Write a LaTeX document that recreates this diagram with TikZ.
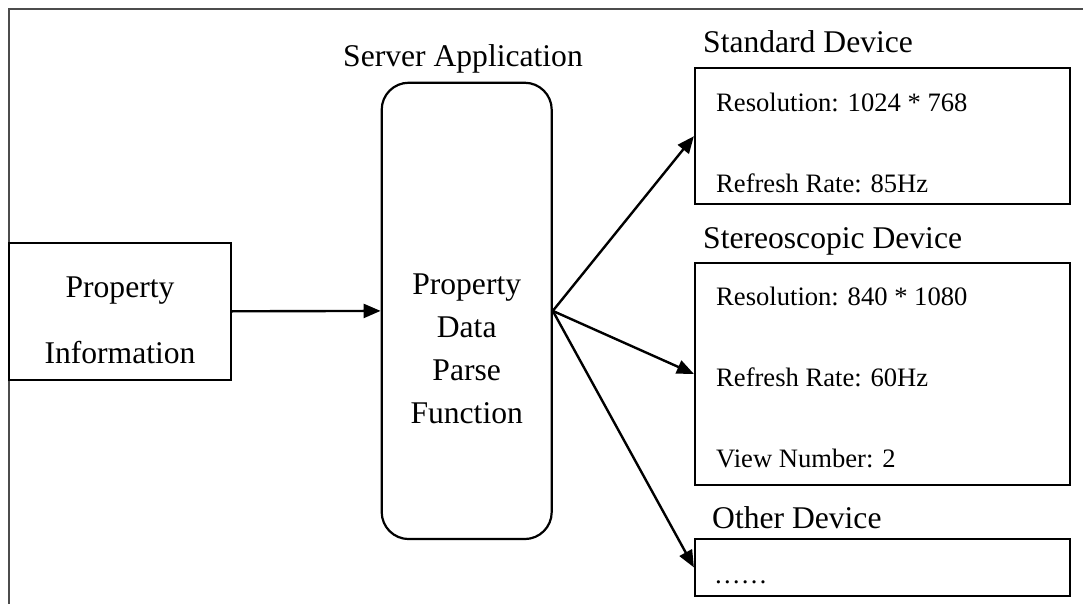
\documentclass[tikz,border=0pt]{standalone}
\usepackage{fontspec}
\setmainfont{Liberation Serif}
\usetikzlibrary{arrows.meta}
\begin{document}
\begin{tikzpicture}[x=1pt,y=-1pt,
  box/.style={draw,line width=2.2pt,rectangle,inner sep=0pt},
  big/.style={font=\fontsize{31.6}{43}\selectfont,inner sep=0pt,anchor=base},
  bigl/.style={big,anchor=base west},
  small/.style={font=\fontsize{26.6}{32}\selectfont,inner sep=0pt,anchor=base west},
  conn/.style={line width=2.4pt,-{Triangle[length=17pt,width=14pt]}}]
\useasboundingbox (0,0) rectangle (1083,604);
% outer frame
\draw[line width=2pt,black!70] (9,604) -- (9,9) -- (1083,9);

% boxes
\node[box,minimum width=222pt,minimum height=137.3pt] (prop) at (120,311.3) {};
\node[box,rounded corners=27pt,minimum width=170pt,minimum height=456.3pt] (srv) at (466.7,310.9) {};
\node[box,minimum width=375pt,minimum height=135.7pt] (std) at (882.5,136.2) {};
\node[box,minimum width=375pt,minimum height=222.3pt] (stereo) at (882.5,373.9) {};
\node[box,minimum width=375pt,minimum height=56.7pt] (other) at (882.5,567.4) {};

% input box text
\node[big] (propA) at (120,297) {Property};
\node[big] (propB) at (120,363) {Information};

% server
\node[big] (srvtitle) at (463,67) {Server Application};
\node[big] (srvA) at (466.7,294) {Property};
\node[big] (srvB) at (466.7,337) {Data};
\node[big] (srvC) at (466.7,380) {Parse};
\node[big] (srvD) at (466.7,423) {Function};

% devices
\node[bigl] (stdtitle) at (703,53) {Standard Device};
\node[small] (stdA) at (716,112) {Resolution: 1024 * 768};
\node[small] (stdB) at (716,192) {Refresh Rate: 85Hz};

\node[bigl] (sttitle) at (703,248) {Stereoscopic Device};
\node[small] (stA) at (716,305) {Resolution: 840 * 1080};
\node[small] (stB) at (716,386) {Refresh Rate: 60Hz};
\node[small] (stC) at (716,467) {View Number: 2};

\node[bigl] (othtitle) at (712,528) {Other Device};
\node[small] (othA) at (714,583) {……};

% connectors
\draw[conn] (prop.east) -- (srv.west);
\draw[conn] (srv.east) -- (std.west);
\draw[conn] (srv.east) -- (stereo.west);
\draw[conn] (srv.east) -- (other.west);
\end{tikzpicture}
\end{document}
